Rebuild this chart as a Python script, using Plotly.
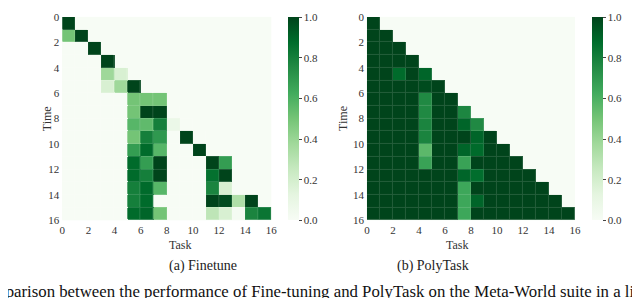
import plotly.graph_objects as go

tasks = list(range(16))
times = list(range(16))
tick_vals = [0, 2, 4, 6, 8, 10, 12, 14, 16]
cbar_ticks = [0.0, 0.2, 0.4, 0.6, 0.8, 1.0]

N = None
finetune = [
    [1.0, N, N, N, N, N, N, N, N, N, N, N, N, N, N, N],
    [0.5, 1.0, N, N, N, N, N, N, N, N, N, N, N, N, N, N],
    [0, 0, 1.0, N, N, N, N, N, N, N, N, N, N, N, N, N],
    [0, 0, 0, 1.0, N, N, N, N, N, N, N, N, N, N, N, N],
    [0, 0, 0, 0.38, 0.18, N, N, N, N, N, N, N, N, N, N, N],
    [0, 0, 0, 0.18, 0.38, 1.0, N, N, N, N, N, N, N, N, N, N],
    [0, 0, 0, 0, 0, 0.5, 0.5, 0.5, N, N, N, N, N, N, N, N],
    [0, 0, 0, 0, 0, 0.5, 1.0, 1.0, 0, N, N, N, N, N, N, N],
    [0, 0, 0, 0, 0, 0.57, 0.55, 0.8, 0.08, 0, N, N, N, N, N, N],
    [0, 0, 0, 0, 0, 0.5, 0.8, 0.7, 0, 1.0, 0, N, N, N, N, N],
    [0, 0, 0, 0, 0, 0.68, 0.88, 0.57, 0, 0, 1.0, N, N, N, N, N],
    [0, 0, 0, 0, 0, 0.88, 0.68, 1.0, 0, 0, 0, 1.0, 0.68, N, N, N],
    [0, 0, 0, 0, 0, 0.88, 0.8, 1.0, 0, 0, 0, 0.86, 1.0, N, N, N],
    [0, 0, 0, 0, 0, 0.8, 0.88, 0.57, 0, 0, 0, 0.78, 0.18, N, N, N],
    [0, 0, 0, 0, 0, 0.8, 0.88, 0, 0, 0, 0, 1.0, 0.98, 0.33, 1.0, N],
    [0, 0, 0, 0, 0, 0.88, 0.9, 0.5, 0, 0, 0, 0.28, 0.18, 0.02, 0.78, 0.84],
]
polytask = [
    [1.0, N, N, N, N, N, N, N, N, N, N, N, N, N, N, N],
    [1.0, 1.0, N, N, N, N, N, N, N, N, N, N, N, N, N, N],
    [1.0, 1.0, 1.0, N, N, N, N, N, N, N, N, N, N, N, N, N],
    [1.0, 1.0, 1.0, 1.0, N, N, N, N, N, N, N, N, N, N, N, N],
    [1.0, 1.0, 0.88, 1.0, 0.9, N, N, N, N, N, N, N, N, N, N, N],
    [1.0, 1.0, 1.0, 1.0, 0.98, 1.0, N, N, N, N, N, N, N, N, N, N],
    [1.0, 1.0, 1.0, 1.0, 0.76, 1.0, 1.0, N, N, N, N, N, N, N, N, N],
    [1.0, 1.0, 1.0, 1.0, 0.76, 1.0, 1.0, 0.77, N, N, N, N, N, N, N, N],
    [1.0, 1.0, 1.0, 1.0, 0.78, 1.0, 1.0, 0.9, 0.76, N, N, N, N, N, N, N],
    [1.0, 1.0, 1.0, 1.0, 0.78, 1.0, 1.0, 1.0, 0.9, 1.0, N, N, N, N, N, N],
    [1.0, 1.0, 1.0, 1.0, 0.56, 1.0, 1.0, 0.9, 0.88, 1.0, 1.0, N, N, N, N, N],
    [1.0, 1.0, 1.0, 1.0, 0.66, 1.0, 1.0, 0.66, 1.0, 1.0, 1.0, 1.0, N, N, N, N],
    [1.0, 1.0, 1.0, 1.0, 1.0, 1.0, 1.0, 0.9, 0.87, 1.0, 1.0, 1.0, 1.0, N, N, N],
    [1.0, 1.0, 1.0, 1.0, 1.0, 1.0, 1.0, 0.64, 1.0, 1.0, 1.0, 1.0, 1.0, 1.0, N, N],
    [1.0, 1.0, 1.0, 1.0, 1.0, 1.0, 1.0, 0.64, 0.9, 1.0, 1.0, 1.0, 1.0, 1.0, 1.0, N],
    [1.0, 1.0, 1.0, 1.0, 1.0, 1.0, 1.0, 0.64, 1.0, 1.0, 1.0, 1.0, 1.0, 1.0, 1.0, 1.0],
]

W, H = 640, 298
SERIF = "Liberation Serif"
bg0 = "#f7fcf5"

greens = ["#f7fcf5", "#e5f5e0", "#c7e9c0", "#a1d99b", "#74c476",
          "#41ab5d", "#238b45", "#006d2c", "#00441b"]


def blend(hexc, f):
    r, g, b = (int(hexc[i:i + 2], 16) for i in (1, 3, 5))
    r, g, b = (round(c + (255 - c) * f) for c in (r, g, b))
    return f"rgb({r},{g},{b})"


scale_main = [[i / 8, c] for i, c in enumerate(greens)]
scale_seam = [[i / 8, blend(c, 0.14)] for i, c in enumerate(greens)]


def px_x(p):
    return p / W


def px_y(p):
    return 1 - p / H


top, bot = 3, 215
fig = go.Figure()

panels = [
    (finetune, "x", "y", 52, 264, 281, "(a) Finetune"),
    (polytask, "x2", "y2", 361, 572, 589, "(b) PolyTask"),
]
for z, xa, ya, x0, x1, cbx, title in panels:
    xs = [t + 0.5 for t in tasks]
    ys = [t + 0.5 for t in times]
    # seam layer (shows through the cell gaps as faint lines)
    fig.add_trace(go.Heatmap(
        z=z, x=xs, y=ys, xaxis=xa, yaxis=ya, colorscale=scale_seam, zmin=0, zmax=1,
        showscale=False, hoverinfo="skip", hoverongaps=False,
    ))
    fig.add_trace(go.Heatmap(
        z=z, x=xs, y=ys, xaxis=xa, yaxis=ya, colorscale=scale_main, zmin=0, zmax=1,
        xgap=1, ygap=1, hoverongaps=False,
        colorbar=dict(
            x=px_x(cbx), xanchor="left", xpad=0, ypad=0,
            y=px_y(bot), yanchor="bottom", len=(bot - top) / H, lenmode="fraction",
            thickness=11, outlinewidth=0, tickvals=cbar_ticks,
            ticktext=[f"{v:.1f}" for v in cbar_ticks],
            ticks="outside", ticklen=3, tickcolor="#444",
            tickfont=dict(family=SERIF, size=11, color="#333"),
        ),
    ))
    fig.add_annotation(text="Task", x=px_x((x0 + x1) / 2), y=px_y(241), xref="paper", yref="paper",
                       showarrow=False, yanchor="middle", font=dict(family=SERIF, size=12, color="#333"))
    fig.add_annotation(text=title, x=px_x((x0 + x1) / 2), y=px_y(263), xref="paper", yref="paper",
                       showarrow=False, yanchor="middle", font=dict(family=SERIF, size=14, color="#222"))
    fig.add_annotation(text="Time", x=px_x(x0 - 25), y=px_y((top + bot) / 2), xref="paper", yref="paper",
                       showarrow=False, textangle=-90, font=dict(family=SERIF, size=12, color="#333"))

axis_common = dict(tickvals=tick_vals, ticktext=[str(v) for v in tick_vals],
                   showgrid=False, zeroline=False, showline=False, ticks="",
                   ticklabeloverflow="allow", ticklabelstandoff=2,
                   tickfont=dict(family=SERIF, size=11, color="#333"))
fig.update_layout(
    width=W, height=H, margin=dict(l=0, r=0, t=0, b=0),
    font=dict(family=SERIF),
    paper_bgcolor="white", plot_bgcolor=bg0,
    xaxis=dict(domain=[px_x(52), px_x(264)], range=[0, 16], anchor="y", **axis_common),
    yaxis=dict(domain=[px_y(bot), px_y(top)], range=[16, 0], anchor="x", **axis_common),
    xaxis2=dict(domain=[px_x(361), px_x(572)], range=[0, 16], anchor="y2", **axis_common),
    yaxis2=dict(domain=[px_y(bot), px_y(top)], range=[16, 0], anchor="x2", **axis_common),
)
fig.add_annotation(text="Comparison between the performance of Fine-tuning and PolyTask on the Meta-World suite in a lifelong setting",
                   x=px_x(-41), xanchor="left", y=px_y(289), yanchor="middle", xref="paper", yref="paper",
                   showarrow=False, font=dict(family=SERIF, size=16.8, color="#111"))
fig.write_html("out.html")
